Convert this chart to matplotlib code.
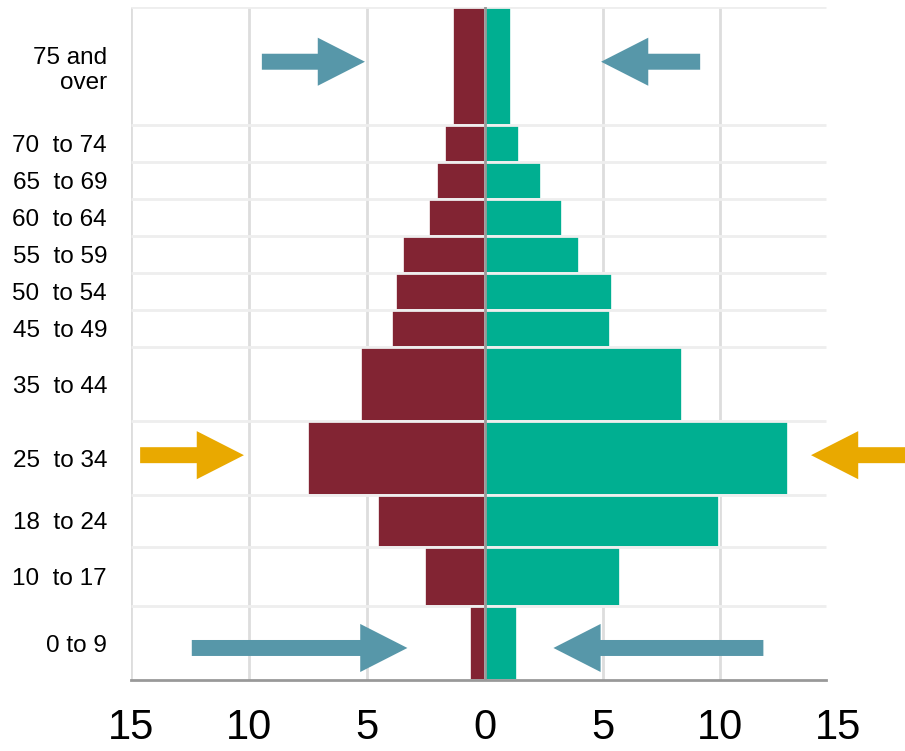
import numpy as np
import matplotlib
matplotlib.use("Agg")
import matplotlib.pyplot as plt

plt.rcParams['font.family'] = ['Liberation Sans', 'DejaVu Sans']

# age bins (bottom edge of each bin, top edge of the last one)
age_edges = [0, 10, 18, 25, 35, 45, 50, 55, 60, 65, 70, 75, 91]
age_labels = ["0 to 9", "10  to 17", "18  to 24", "25  to 34", "35  to 44",
              "45  to 49", "50  to 54", "55  to 59", "60  to 64", "65  to 69",
              "70  to 74", "75 and\nover"]
# percentages, left side (red) and right side (teal)
left_vals = [0.62, 2.52, 4.53, 7.49, 5.22, 3.92, 3.74, 3.47, 2.36, 2.02, 1.68, 1.32]
right_vals = [1.39, 5.75, 9.94, 12.88, 8.37, 5.31, 5.39, 4.00, 3.29, 2.41, 1.46, 1.11]

xticks = [-15, -10, -5, 0, 5, 10, 15]
x_right_end = 14.47

# arrows: (tail x, tip x, y, colour)
arrows = [
    (-9.44, -5.07, 83.6, "#5797a9"),
    (9.14, 4.94, 83.6, "#5797a9"),
    (-14.6, -10.2, 30.4, "#e9a900"),
    (18.5, 13.84, 30.4, "#e9a900"),
    (-12.41, -3.27, 4.33, "#5797a9"),
    (11.82, 2.92, 4.33, "#5797a9"),
]

red = "#822433"
teal = "#00af91"

fig = plt.figure(figsize=(9.05, 7.51), dpi=100)
ax = fig.add_axes([130.7 / 905, 71 / 751, 707.7 / 905, 673 / 751])

bottoms = np.array(age_edges[:-1])
heights = np.diff(age_edges)
ax.barh(bottoms, -np.array(left_vals), height=heights, align="edge",
        color=red, edgecolor="white", linewidth=1.2, zorder=2)
ax.barh(bottoms, right_vals, height=heights, align="edge",
        color=teal, edgecolor="white", linewidth=1.2, zorder=2)

# grid
ax.vlines([t for t in xticks if t != 0 and t <= x_right_end], 0, age_edges[-1],
          color="#dddddd", lw=2, zorder=0)
ax.hlines(age_edges[1:], -15, x_right_end, color="#eeeeee", lw=2, zorder=3)
ax.axvline(0, color="#999999", lw=2, zorder=4)

for x0, x1, y, c in arrows:
    ax.arrow(x0, y, x1 - x0, 0, width=2.16, head_width=6.5, head_length=2.0,
             length_includes_head=True, color=c, lw=0, clip_on=False, zorder=5)

ax.set_xlim(-15, 15)
ax.set_ylim(0, age_edges[-1])
ax.set_xticks(xticks)
ax.set_xticklabels([str(abs(t)) for t in xticks], fontsize=30)
ax.tick_params(axis="x", length=0, pad=20)

centers = bottoms + heights / 2
ax.set_yticks(centers)
ax.set_yticklabels(age_labels, fontsize=17.5, ha="right", multialignment="right")
ax.tick_params(axis="y", length=0, pad=17)

for s in ["top", "right", "left"]:
    ax.spines[s].set_visible(False)
ax.spines["bottom"].set_color("#999999")
ax.spines["bottom"].set_linewidth(2)
ax.spines["bottom"].set_bounds(-15, x_right_end)
ax.spines["bottom"].set_zorder(6)

fig.savefig("out.png", dpi=100)
